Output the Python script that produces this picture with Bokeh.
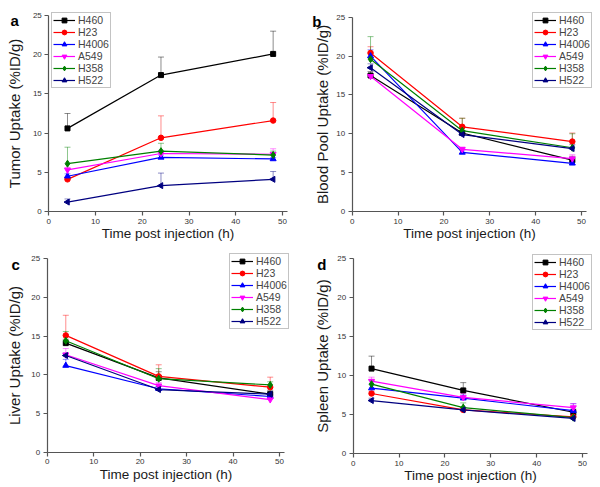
import math
from bokeh.plotting import figure
from bokeh.models import (ColumnDataSource, Whisker, TeeHead, Legend, LegendItem,
                          Label, Range1d, FixedTicker)
from bokeh.layouts import column, row
from bokeh.embed import file_html
from bokeh.resources import INLINE

# ---------------- data ----------------
times = [4, 24, 48]
cell_lines = ["H460", "H23", "H4006", "A549", "H358", "H522"]
x_ticks = [0, 10, 20, 30, 40, 50]
y_ticks = [0, 5, 10, 15, 20, 25]

# order of rows follows cell_lines
tumor_mean = [[10.6, 17.4, 20.1], [4.1, 9.4, 11.6], [4.5, 6.9, 6.7],
              [5.3, 7.4, 7.3], [6.1, 7.7, 7.2], [1.2, 3.3, 4.1]]
tumor_err = [[1.9, 2.3, 2.9], [0.3, 2.8, 2.3], [0.3, 0.3, 0.2],
             [0.3, 0.4, 0.7], [2.1, 1.0, 0.5], [0.4, 1.6, 1.0]]

blood_mean = [[17.5, 10.1, 6.6], [20.4, 10.9, 9.0], [20.0, 7.6, 6.2],
              [17.4, 8.0, 6.8], [19.6, 10.4, 8.2], [18.5, 9.9, 8.1]]
blood_err = [[0.5, 0.8, 0.5], [0.8, 1.1, 1.1], [0.8, 0.3, 0.3],
             [0.3, 0.3, 0.5], [2.9, 1.6, 1.8], [0.5, 0.5, 0.5]]

liver_mean = [[14.1, 9.6, 7.5], [15.1, 9.8, 8.4], [11.2, 8.2, 7.2],
              [12.6, 8.6, 6.8], [14.4, 9.5, 8.7], [12.5, 8.1, 7.5]]
liver_err = [[0.5, 0.8, 0.5], [2.6, 1.5, 1.3], [0.8, 0.3, 0.3],
             [0.8, 0.4, 0.3], [1.2, 1.3, 0.4], [0.3, 0.4, 0.3]]

spleen_mean = [[10.9, 8.1, 5.3], [7.7, 5.6, 4.7], [8.4, 7.1, 5.5],
               [9.3, 7.2, 5.9], [8.9, 5.9, 4.6], [6.8, 5.6, 4.5]]
spleen_err = [[1.6, 1.0, 0.4], [0.3, 0.3, 0.3], [0.5, 0.4, 0.9],
              [0.5, 0.5, 0.5], [0.5, 0.6, 0.3], [0.3, 0.3, 0.3]]

# ---------------- styles ----------------
colors = ["#000000", "#ff0000", "#0000ff", "#ff00ff", "#008000", "#000080"]
markers = ["square", "circle", "triangle", "inverted_triangle", "diamond", "triangle"]
msizes = [5, 5.5, 6, 6, 7, 6]
angles = [0, 0, 0, 0, 0, math.pi / 2]
FONT = "Liberation Sans"


def panel(letter, ylabel, means, errs, W, H, x0, x50, y0, y25,
          ystand, leg_xy, letter_xy):
    # pixel geometry of the axes inside the figure (frame = whole figure)
    sx = (x50 - x0) / 50.0
    sy = (y0 - y25) / 25.0
    xr = Range1d(-x0 / sx, (W - x0) / sx)
    yr = Range1d(-(H - y0) / sy, y0 / sy)
    p = figure(width=W, height=H, x_range=xr, y_range=yr,
               output_backend="svg", toolbar_location=None,
               min_border=0)
    p.outline_line_color = None
    p.grid.visible = False
    p.background_fill_color = "white"
    p.border_fill_color = "white"

    p.xaxis.ticker = FixedTicker(ticks=x_ticks)
    p.yaxis.ticker = FixedTicker(ticks=y_ticks)
    p.xaxis.fixed_location = 0
    p.yaxis.fixed_location = 0
    p.xaxis.bounds = (0, 51)
    p.yaxis.bounds = (0, 25)
    for ax in (p.xaxis[0], p.yaxis[0]):
        ax.axis_line_color = "#555555"
        ax.axis_line_width = 1.2
        ax.major_tick_line_color = "#555555"
        ax.major_tick_line_width = 1.2
        ax.major_tick_out = 4
        ax.major_tick_in = 0
        ax.minor_tick_line_color = None
        ax.major_label_text_font = FONT
        ax.major_label_text_font_size = "8px"
        ax.major_label_text_color = "#333333"
        ax.major_label_standoff = 3
        ax.axis_label_text_font = FONT
        ax.axis_label_text_font_style = "normal"
        ax.axis_label_text_color = "#1a1a1a"
    p.xaxis.axis_label = "Time post injection (h)"
    p.xaxis.axis_label_text_font_size = "13.5px"
    p.xaxis.axis_label_standoff = -1
    p.yaxis.axis_label = ylabel
    p.yaxis.axis_label_text_font_size = "15px"
    p.yaxis.axis_label_standoff = ystand

    items = []
    for i, name in enumerate(cell_lines):
        ys = means[i]
        ups = [y + e for y, e in zip(ys, errs[i])]
        src = ColumnDataSource(dict(x=times, y=ys, upper=ups))
        wk = Whisker(source=src, base="x", upper="upper", lower="y",
                     line_color=colors[i], line_alpha=0.45, line_width=1,
                     upper_head=TeeHead(size=6, line_color=colors[i], line_alpha=0.45),
                     lower_head=None)
        p.add_layout(wk)
        lr = p.line("x", "y", source=src, line_color=colors[i], line_width=1.2)
        sr = p.scatter("x", "y", source=src, marker=markers[i], size=msizes[i],
                       angle=angles[i], fill_color=colors[i], line_color=colors[i])
        items.append(LegendItem(label=name, renderers=[lr, sr]))

    leg = Legend(items=items, location=leg_xy, padding=1, spacing=0, margin=0,
                 label_text_font=FONT, label_text_font_size="10.5px",
                 label_height=12, glyph_height=12, glyph_width=22,
                 label_standoff=3, border_line_color="#888888",
                 border_line_width=1, background_fill_color="white",
                 background_fill_alpha=1)
    p.add_layout(leg)

    p.add_layout(Label(x=letter_xy[0], y=letter_xy[1], text=letter,
                       text_font=FONT, text_font_size="15px",
                       text_font_style="bold", text_color="#000000",
                       text_baseline="alphabetic"))
    return p


pa = panel("a", "Tumor Uptake (%ID/g)", tumor_mean, tumor_err,
           300, 245, 48.3, 282.0, 211.0, 15.0, 7, (51, 157), (-8.2, 24.3))
pb = panel("b", "Blood Pool Uptake (%ID/g)", blood_mean, blood_err,
           300, 245, 51.7, 281.0, 211.0, 16.7, 3, (232, 157), (-8.7, 24.5))
pc = panel("c", "Liver Uptake (%ID/g)", liver_mean, liver_err,
           300, 242, 46.7, 279.0, 206.7, 13.3, 6, (229, 158), (-7.7, 24.3))
pd_ = panel("d", "Spleen Uptake (%ID/g)", spleen_mean, spleen_err,
            300, 242, 52.7, 282.0, 208.0, 13.3, 4, (232, 157), (-7.85, 24.3))

layout = column(row(pa, pb), row(pc, pd_))
open("out.html", "w").write(file_html(layout, INLINE))
